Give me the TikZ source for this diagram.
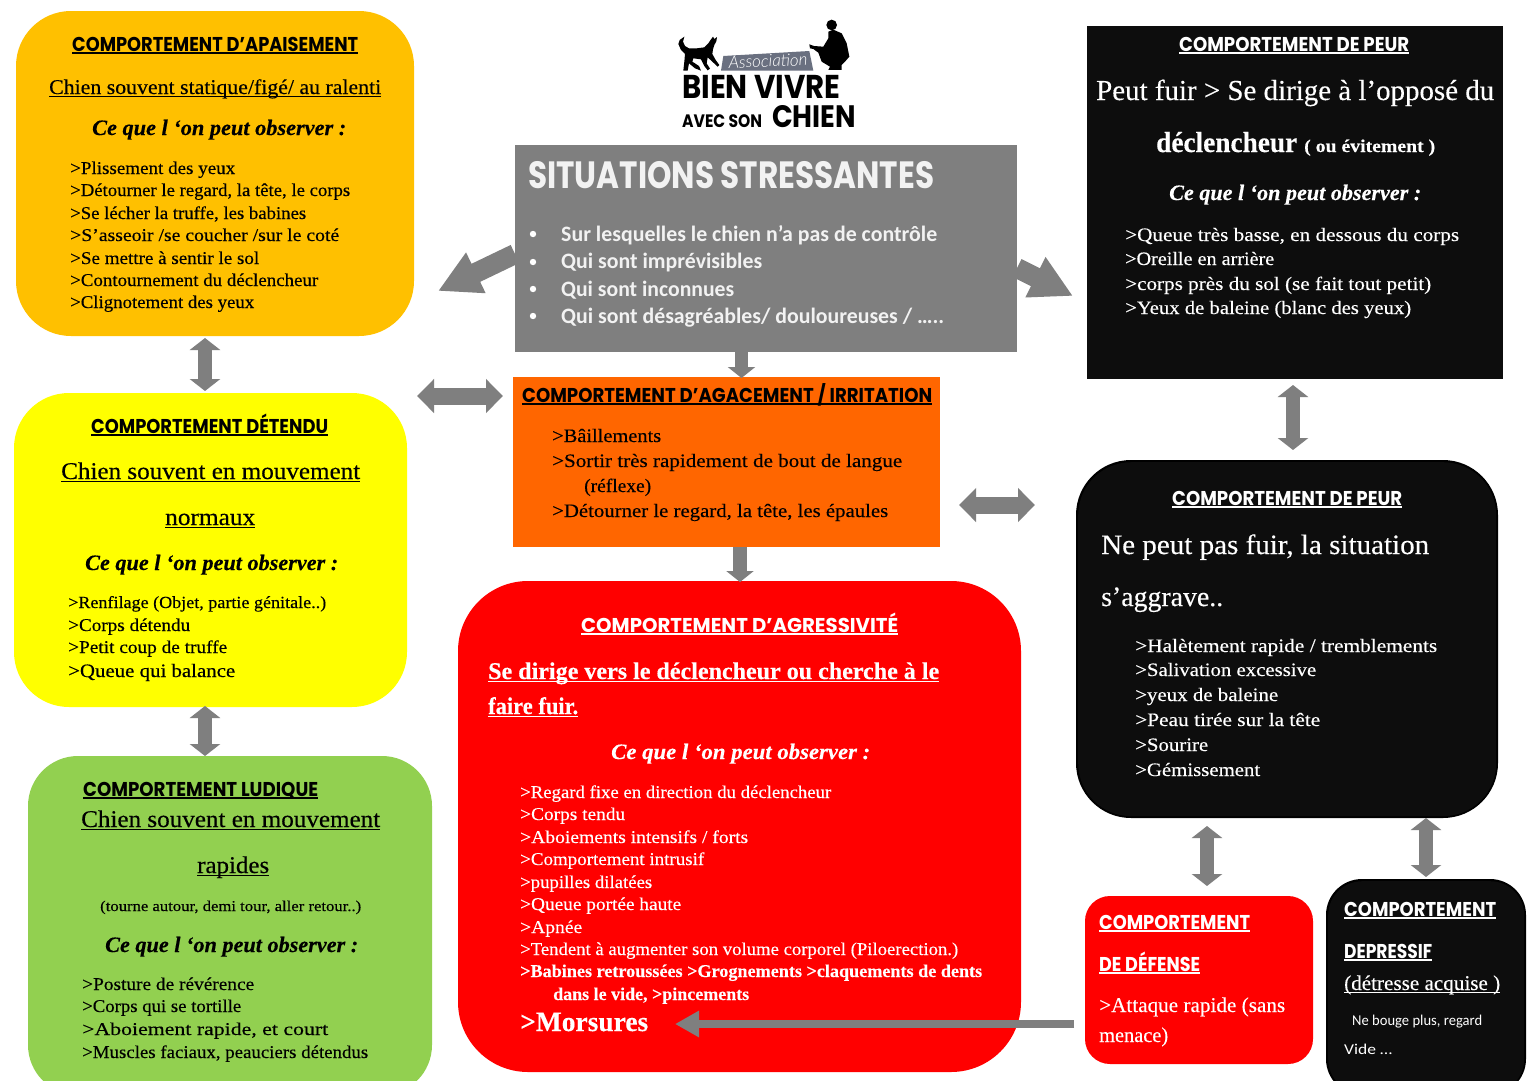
\documentclass[tikz,border=0pt]{standalone}
\usepackage{fontspec}
\usepackage{graphicx}
\usetikzlibrary{arrows.meta}
\setmainfont{Liberation Serif}[FakeBold=0.3]
\newfontfamily\hf{Poppins}
\newfontfamily\cf{Carlito}
\newcommand\F[1]{\fontsize{#1}{#1}\selectfont}
\newcommand\bodyf[1]{\rmfamily\F{#1}}
\newcommand\headf{\hf\bfseries\F{20}}
\newcommand\obsf{\rmfamily\bfseries\itshape\F{22}}
\definecolor{agray}{HTML}{7F7F7F}
\definecolor{cApais}{HTML}{FFC000}
\definecolor{cYellow}{HTML}{FFFF00}
\definecolor{cRed}{HTML}{FF0000}
\definecolor{cGreen}{HTML}{92D050}
\definecolor{cOrange}{HTML}{FF6600}
\definecolor{cBlack}{HTML}{0D0D0D}
\definecolor{cLogo}{HTML}{6A7080}
\newsavebox\tlbox
% name, x1, baseline, x2, font, text
\newcommand\tl[6]{%
  \node[anchor=base west,inner sep=0pt] (#1) at (#2,#3) {\sbox\tlbox{#5#6}%
  \pgfmathsetmacro\tlr{(#4-#2)/(\wd\tlbox/1pt)}%
  \scalebox{\tlr}[1]{\usebox\tlbox}};}
\newcommand\utl[6]{%
  \node[anchor=base west,inner sep=0pt] (#1) at (#2,#3) {\sbox\tlbox{#5#6}%
  \pgfmathsetmacro\tlr{(#4-#2)/(\wd\tlbox/1pt)}%
  \pgfmathsetlengthmacro\tlw{#4-#2}%
  \rlap{\rule[-3pt]{\tlw}{1pt}}\scalebox{\tlr}[1]{\usebox\tlbox}};}
% heading: name, x1, baseline, x2, text
\newcommand\hl[5]{%
  \node[anchor=base west,inner sep=0pt] (#1) at (#2,#3) {\sbox\tlbox{\headf#5}%
  \pgfmathsetmacro\tlr{(#4-#2)/(\wd\tlbox/1pt)}%
  \pgfmathsetlengthmacro\tlw{#4-#2}%
  \rlap{\rule[-2.5pt]{\tlw}{1.4pt}}\scalebox{\tlr}[1]{\usebox\tlbox}};}
% name, x1,y1,x2,y2, radius, fill
\newcommand\bx[7]{%
  \pgfmathsetlengthmacro\bw{#4-#2}\pgfmathsetlengthmacro\bh{#5-#3}%
  \node[anchor=north west,inner sep=0pt,outer sep=0pt,draw=none,fill=#7,rounded corners=#6,minimum width=\bw,minimum height=\bh] (#1) at (#2,#3) {};}
\tikzset{
  vdbl/.style={draw=agray,line width=14pt,{Triangle[length=12pt,width=30pt]}-{Triangle[length=12pt,width=30pt]}},
  hdbl/.style={draw=agray,line width=17pt,{Triangle[length=17pt,width=33pt]}-{Triangle[length=17pt,width=33pt]}},
  bigarrow/.style={draw=agray,line width=20pt,-{Triangle[length=42pt,width=42pt]}},
  downarrow/.style={draw=agray,line width=#1,-{Triangle[length=11pt,width=27pt]}},
}
\begin{document}
\begin{tikzpicture}[x=1pt,y=-1pt]
\useasboundingbox (0,0) rectangle (1527,1080);
\clip (0,0) rectangle (1527,1080);
\fill[white] (0,0) rectangle (1527,1080);
% boxes
\bx{apais}{16}{11}{414}{336}{55pt}{cApais}
\bx{detendu}{14}{393}{407}{707}{55pt}{cYellow}
\bx{ludique}{28}{756}{432}{1095}{50pt}{cGreen}
\bx{situ}{515}{145}{1017}{352}{0pt}{agray}
\bx{agace}{513}{377}{940}{547}{0pt}{cOrange}
\bx{agress}{458}{581}{1021}{1072}{70pt}{cRed}
\bx{peura}{1087}{26}{1503}{379}{0pt}{cBlack}
\bx{peurb}{1076}{460}{1498}{818}{55pt}{black}
\bx{defense}{1085}{896}{1313}{1064}{25pt}{cRed}
\bx{depress}{1326}{879}{1526}{1095}{36pt}{black}
\node[anchor=north west,inner sep=0pt,fill=cBlack,rounded corners=53pt,minimum width=418pt,minimum height=354pt] (peurbin) at (1078,462) {};
\node[anchor=north west,inner sep=0pt,fill=cBlack,rounded corners=34pt,minimum width=196pt,minimum height=212pt] (depressin) at (1328,881) {};
% connectors
\coordinate (a1) at (205,338); \coordinate (a2) at (205,391);
\coordinate (b1) at (205,706); \coordinate (b2) at (205,756);
\coordinate (c1) at (417,396); \coordinate (c2) at (503,396);
\coordinate (d1) at (959,505); \coordinate (d2) at (1035,505);
\coordinate (e1) at (1293,385); \coordinate (e2) at (1293,450);
\coordinate (f1) at (1207,826); \coordinate (f2) at (1207,886);
\coordinate (g1) at (1426,818); \coordinate (g2) at (1426,877);
\coordinate (h1) at (515,254); \coordinate (h2) at (438,291);
\coordinate (i1) at (1017,268); \coordinate (i2) at (1073,296);
\coordinate (j1) at (741.5,352); \coordinate (j2) at (741.5,378);
\coordinate (k1) at (740,547); \coordinate (k2) at (740,582);
\coordinate (l1) at (1074,1024); \coordinate (l2) at (675,1024);
\draw[vdbl] (a1) -- (a2);
\draw[vdbl] (b1) -- (b2);
\draw[hdbl] (c1) -- (c2);
\draw[hdbl] (d1) -- (d2);
\draw[vdbl] (e1) -- (e2);
\draw[vdbl] (f1) -- (f2);
\draw[vdbl] (g1) -- (g2);
\draw[bigarrow] (h1) -- (h2);
\draw[bigarrow] (i1) -- (i2);
\draw[downarrow=13pt] (j1) -- (j2);
\draw[downarrow=14pt] (k1) -- (k2);
\draw[draw=agray,line width=8pt,-{Triangle[length=24pt,width=25pt]}] (l1) -- (l2);
% logo
\begin{scope}[shift={(675,30)},x=0.3333pt,y=-0.3333pt]
\fill[black,line join=round] (28,20) -- (24,35) -- (30,48) -- (42,55) -- (65,55) -- (88,52) -- (100,40) -- (108,28) -- (114,20) -- (118,27) -- (126,21) -- (124,34) -- (118,45) -- (114,58) -- (112,72) -- (122,90) -- (133,105) -- (128,110) -- (112,95) -- (98,82) -- (95,100) -- (105,116) -- (98,121) -- (88,108) -- (78,88) -- (55,85) -- (52,95) -- (72,108) -- (78,122) -- (60,115) -- (42,100) -- (38,122) -- (25,122) -- (28,95) -- (30,72) -- (18,60) -- (10,42) -- (14,30) -- cycle;
\end{scope}
\begin{scope}[shift={(800,15)},x=0.3333pt,y=-0.3333pt]
\fill[black] (95,30) circle[radius=16];
\fill[black,line join=round] (100,44) -- (125,55) -- (140,85) -- (148,125) -- (135,140) -- (125,150) -- (125,165) -- (85,165) -- (90,155) -- (65,140) -- (55,113) -- (40,102) -- (30,100) -- (28,88) -- (42,93) -- (70,95) -- (85,70) -- (85,50) -- cycle;
\end{scope}
\begin{scope}[shift={(640,0)},x=0.3333pt,y=-0.3333pt]
\fill[cLogo] (243,212) -- (250,168) -- (508,153) -- (520,212) -- cycle;
\end{scope}
\node[text=white,inner sep=0pt,rotate=2,anchor=center] (assoc) at (768,61) {\fontspec{Lato Light}\itshape\F{17}Association};
\tl{bien}{682}{98}{840}{\hf\bfseries\F{33}}{BIEN VIVRE}
\tl{avec}{682}{127}{762}{\hf\bfseries\F{18}}{AVEC SON}
\tl{chien}{772}{127}{856}{\hf\bfseries\F{31}}{CHIEN}
% Apaisement
\hl{t1}{72}{51}{358}{COMPORTEMENT D’APAISEMENT}
\utl{t2}{49}{94}{381}{\bodyf{21}}{Chien souvent statique/figé/ au ralenti}
\tl{t3}{92}{135}{346}{\obsf}{Ce que l ‘on peut observer :}
\tl{t4}{70}{174}{235}{\bodyf{18}}{>Plissement des yeux}
\tl{t5}{70}{196}{350}{\bodyf{18}}{>Détourner le regard, la tête, le corps}
\tl{t6}{70}{219}{306}{\bodyf{18}}{>Se lécher la truffe, les babines}
\tl{t7}{70}{241}{339}{\bodyf{18}}{>S’asseoir /se coucher /sur le coté}
\tl{t8}{70}{264}{259}{\bodyf{18}}{>Se mettre à sentir le sol}
\tl{t9}{70}{286}{318}{\bodyf{18}}{>Contournement du déclencheur}
\tl{t10}{70}{308}{254}{\bodyf{18}}{>Clignotement des yeux}
% Detendu
\hl{u1}{91}{433}{328}{COMPORTEMENT DÉTENDU}
\utl{u2}{61}{479}{360}{\bodyf{24}}{Chien souvent en mouvement}
\utl{u3}{165}{525}{255}{\bodyf{24}}{normaux}
\tl{u4}{85}{570}{338}{\obsf}{Ce que l ‘on peut observer :}
\tl{u5}{68}{608}{326}{\bodyf{17}}{>Renfilage (Objet, partie génitale..)}
\tl{u6}{68}{631}{190}{\bodyf{18}}{>Corps détendu}
\tl{u7}{68}{653}{227}{\bodyf{18}}{>Petit coup de truffe}
\tl{u8}{68}{677}{235}{\bodyf{19}}{>Queue qui balance}
% Ludique
\hl{v1}{83}{796}{318}{COMPORTEMENT LUDIQUE}
\utl{v2}{81}{827}{380}{\bodyf{24}}{Chien souvent en mouvement}
\utl{v3}{197}{873}{269}{\bodyf{24}}{rapides}
\tl{v4}{100}{911}{361}{\bodyf{15}}{(tourne autour,  demi tour, aller retour..)}
\tl{v5}{105}{952}{358}{\obsf}{Ce que l ‘on peut observer :}
\tl{v6}{82}{990}{254}{\bodyf{18}}{>Posture de révérence}
\tl{v7}{82}{1012}{241}{\bodyf{18}}{>Corps qui se tortille}
\tl{v8}{82}{1035}{328}{\bodyf{18}}{>Aboiement rapide, et court}
\tl{v9}{82}{1058}{368}{\bodyf{18}}{>Muscles faciaux, peauciers détendus}
% Situations
\begin{scope}[every node/.append style={text=white!95!black}]
\tl{w1}{528}{188}{934}{\hf\bfseries\F{38}}{SITUATIONS STRESSANTES}
\fill[white] (533,234) circle[radius=3.2] (533,262) circle[radius=3.2] (533,289) circle[radius=3.2] (533,316) circle[radius=3.2];
\tl{w2}{561}{241}{937}{\cf\bfseries\F{22}}{Sur lesquelles le chien n’a pas de contrôle}
\tl{w3}{561}{268}{762}{\cf\bfseries\F{22}}{Qui sont imprévisibles}
\tl{w4}{561}{296}{734}{\cf\bfseries\F{22}}{Qui sont inconnues}
\tl{w5}{561}{323}{944}{\cf\bfseries\F{22}}{Qui sont désagréables/ douloureuses / …..}
\end{scope}
% Agacement
\hl{x1}{522}{402}{932}{COMPORTEMENT D’AGACEMENT / IRRITATION}
\tl{x2}{552}{442}{661}{\bodyf{19}}{>Bâillements}
\tl{x3}{552}{467}{902}{\bodyf{19}}{>Sortir très rapidement de bout de langue}
\tl{x4}{584}{492}{651}{\bodyf{19}}{(réflexe)}
\tl{x5}{552}{517}{888}{\bodyf{19}}{>Détourner le regard, la tête, les épaules}
% Agressivite
\begin{scope}[every node/.append style={text=white}]
\hl{y1}{581}{632}{898}{COMPORTEMENT D’AGRESSIVITÉ}
\utl{y2}{488}{679}{939}{\bodyf{24}\bfseries}{Se dirige vers le déclencheur  ou cherche à le}
\utl{y3}{488}{714}{578}{\bodyf{24}\bfseries}{faire fuir.}
\tl{y4}{611}{759}{870}{\obsf}{Ce que l ‘on peut observer  :}
\tl{y5}{520}{798}{831}{\bodyf{18}}{>Regard fixe en direction du déclencheur}
\tl{y6}{520}{820}{625}{\bodyf{18}}{>Corps tendu}
\tl{y7}{520}{843}{748}{\bodyf{18}}{>Aboiements intensifs / forts}
\tl{y8}{520}{865}{704}{\bodyf{18}}{>Comportement intrusif}
\tl{y9}{520}{888}{652}{\bodyf{18}}{>pupilles dilatées}
\tl{y10}{520}{910}{681}{\bodyf{18}}{>Queue portée haute}
\tl{y11}{520}{933}{582}{\bodyf{18}}{>Apnée}
\tl{y12}{520}{955}{958}{\bodyf{18}}{>Tendent à augmenter son volume corporel (Piloerection.)}
\tl{y13}{520}{977}{982}{\bodyf{18}\bfseries}{>Babines retroussées >Grognements >claquements de dents}
\tl{y14}{553}{1000}{749}{\bodyf{18}\bfseries}{dans le vide, >pincements}
\tl{y15}{520}{1031}{648}{\bodyf{28}\bfseries}{>Morsures}
% Peur A
\hl{p1}{1179}{51}{1409}{COMPORTEMENT DE PEUR}
\tl{p2}{1096}{100}{1494}{\bodyf{29}}{Peut fuir > Se dirige à l’opposé du}
\tl{p3}{1156}{152}{1297}{\bodyf{29}\bfseries}{déclencheur}
\tl{p4}{1304}{152}{1435}{\bodyf{18}\bfseries}{( ou évitement )}
\tl{p5}{1169}{200}{1421}{\obsf}{Ce que l ‘on peut observer :}
\tl{p6}{1125}{241}{1459}{\bodyf{19}}{>Queue très basse, en dessous du corps}
\tl{p7}{1125}{265}{1274}{\bodyf{19}}{>Oreille en arrière}
\tl{p8}{1125}{290}{1431}{\bodyf{19}}{>corps près du sol (se fait tout petit)}
\tl{p9}{1125}{314}{1411}{\bodyf{19}}{>Yeux de baleine (blanc des yeux)}
% Peur B
\hl{q1}{1172}{505}{1402}{COMPORTEMENT DE PEUR}
\tl{q2}{1101}{554}{1429}{\bodyf{28}}{Ne peut pas fuir, la situation}
\tl{q3}{1101}{606}{1223}{\bodyf{28}}{s’aggrave..}
\tl{q4}{1135}{652}{1437}{\bodyf{19}}{>Halètement rapide / tremblements}
\tl{q5}{1135}{676}{1316}{\bodyf{19}}{>Salivation excessive}
\tl{q6}{1135}{701}{1278}{\bodyf{19}}{>yeux de baleine}
\tl{q7}{1135}{726}{1320}{\bodyf{19}}{>Peau tirée sur la tête}
\tl{q8}{1135}{751}{1208}{\bodyf{19}}{>Sourire}
\tl{q9}{1135}{776}{1260}{\bodyf{19}}{>Gémissement}
% Defense
\hl{r1}{1099}{929}{1250}{COMPORTEMENT}
\hl{r2}{1099}{971}{1200}{DE DÉFENSE}
\tl{r3}{1099}{1012}{1285}{\bodyf{21}}{>Attaque rapide (sans}
\tl{r4}{1099}{1042}{1168}{\bodyf{21}}{menace)}
% Depressif
\hl{s1}{1344}{916}{1496}{COMPORTEMENT}
\hl{s2}{1344}{958}{1432}{DEPRESSIF}
\utl{s3}{1344}{990}{1500}{\bodyf{21}}{(détresse acquise )}
\tl{s4}{1352}{1025}{1482}{\cf\F{15}}{Ne bouge plus, regard}
\tl{s5}{1344}{1054}{1392}{\cf\F{15}}{Vide …}
\end{scope}
\end{tikzpicture}
\end{document}
